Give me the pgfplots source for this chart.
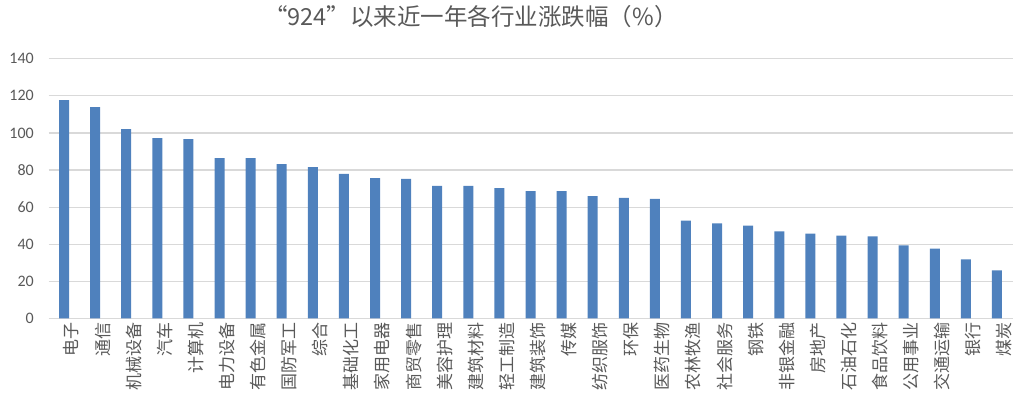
\documentclass[border=0pt]{standalone}
\usepackage{fontspec}
\setmainfont{Carlito}
\newfontfamily\cjk{Noto Sans CJK SC}
\usepackage{pgfplots}
\pgfplotsset{compat=1.18}
\definecolor{barblue}{HTML}{4F81BD}
\definecolor{gridgray}{HTML}{D9D9D9}
\definecolor{txtgray}{HTML}{595959}
\begin{document}
\begin{tikzpicture}[x=1pt,y=1pt]
\useasboundingbox (0,0) rectangle (1016,406);
\begin{axis}[
  at={(48.5pt,87.5pt)}, anchor=south west,
  scale only axis, width=964pt, height=259.8pt,
  ymin=0, ymax=140, ytick={0,20,...,140},
  xmin=-0.5, xmax=30.5,
  xtick={0,...,30},
  xticklabels={电子,通信,机械设备,汽车,计算机,电力设备,有色金属,国防军工,综合,基础化工,家用电器,商贸零售,美容护理,建筑材料,轻工制造,建筑装饰,传媒,纺织服饰,环保,医药生物,农林牧渔,社会服务,钢铁,非银金融,房地产,石油石化,食品饮料,公用事业,交通运输,银行,煤炭},
  xticklabel style={rotate=90, anchor=east, font=\cjk\fontsize{17}{17}\selectfont, text=txtgray, yshift=-7.5pt},
  yticklabel style={anchor=east, font=\fontsize{16}{16}\selectfont, text=txtgray, xshift=-11.2pt},
  /pgf/number format/assume math mode=true,
  major tick length=0pt,
  axis line style={draw=none},
  ymajorgrids, grid style={draw=gridgray, line width=1.3pt},
  ybar, bar width=10pt,
  clip=false,
]
\addplot[fill=barblue, draw=none] coordinates {
(0,117.7) (1,113.9) (2,102.1) (3,97.2) (4,96.7) (5,86.4) (6,86.4) (7,83.2) (8,81.6)
(9,77.9) (10,75.7) (11,75.2) (12,71.4) (13,71.4) (14,70.3) (15,68.7) (16,68.7)
(17,66.0) (18,65.0) (19,64.4) (20,52.8) (21,51.2) (22,50.1) (23,46.9) (24,45.8)
(25,44.7) (26,44.2) (27,39.4) (28,37.7) (29,31.8) (30,25.9)
};
\end{axis}
\node[text=txtgray, font=\cjk\fontsize{23.5}{23.5}\selectfont, inner sep=0pt] at (471,389) {“924”以来近一年各行业涨跌幅（\%）};
\end{tikzpicture}
\end{document}
